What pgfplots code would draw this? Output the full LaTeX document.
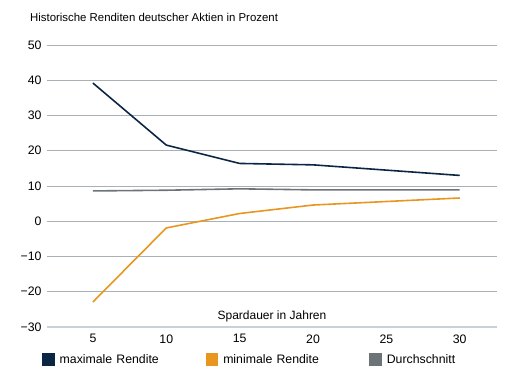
\documentclass[border=0pt]{standalone}
\usepackage{fontspec}
\setmainfont{Liberation Sans}
\usepackage{pgfplots}
\pgfplotsset{compat=1.18}
\definecolor{navy}{HTML}{0B2545}
\definecolor{orng}{HTML}{E8961E}
\definecolor{avg}{HTML}{6D7478}
\definecolor{gridc}{HTML}{A9B1B7}
\begin{document}
\begin{tikzpicture}
\useasboundingbox (0,0) rectangle (518bp,385bp);
\node[anchor=west, inner sep=0pt, font=\fontsize{11.4bp}{13bp}\selectfont] at (30bp,368bp) {Historische Renditen deutscher Aktien in Prozent};
\begin{axis}[
  at={(47bp,58bp)}, anchor=south west,
  scale only axis, width=450bp, height=282bp,
  xmin=1.87, xmax=32.54, ymin=-30, ymax=50,
  xtick={5,10,15,20,25,30},
  ytick={-30,-20,-10,0,10,20,30,40,50},
  yticklabels={−30,−20,−10,0,10,20,30,40,50},
  xticklabels={5,10,15,20,25,30},
  major tick length=0pt,
  axis x line*=bottom, axis y line*=left,
  x axis line style={draw=gridc!60, line width=1.2pt, -},
  y axis line style={draw=none},
  ymajorgrids, grid style={gridc, line width=0.8pt},
  tick label style={font=\fontsize{12.3bp}{14bp}\selectfont},
  yticklabel style={anchor=east, xshift=-2bp},
  xticklabel style={yshift=-4bp},
  xlabel={Spardauer in Jahren},
  xlabel style={font=\fontsize{12bp}{14bp}\selectfont, at={(axis description cs:0.5,0)}, anchor=south, yshift=1bp},
  legend columns=3,
  legend style={draw=none, fill=none, at={(axis description cs:-0.018,-0.115)}, anchor=west,
    font=\fontsize{12.3bp}{14bp}\selectfont,
    /tikz/every odd column/.append style={column sep=3bp},
    /tikz/every even column/.append style={text width=110bp, column sep=34bp},
    /tikz/column 4/.append style={column sep=43bp}},
  legend image code/.code={\fill[#1] (0bp,-5.5bp) rectangle (11bp,5.5bp);},
]
\addplot[navy, line width=1.6pt] coordinates {(5,39.2) (10,21.6) (15,16.4) (20,16.0) (25,14.5) (30,13.0)};
\addlegendentry{maximale Rendite}
\addplot[orng, line width=1.6pt] coordinates {(5,-22.9) (10,-1.9) (15,2.2) (20,4.6) (25,5.6) (30,6.6)};
\addlegendentry{minimale Rendite}
\addplot[avg, line width=1.6pt] coordinates {(5,8.6) (10,8.8) (15,9.2) (20,8.9) (25,8.9) (30,8.9)};
\addlegendentry{Durchschnitt}
\end{axis}
\end{tikzpicture}
\end{document}
